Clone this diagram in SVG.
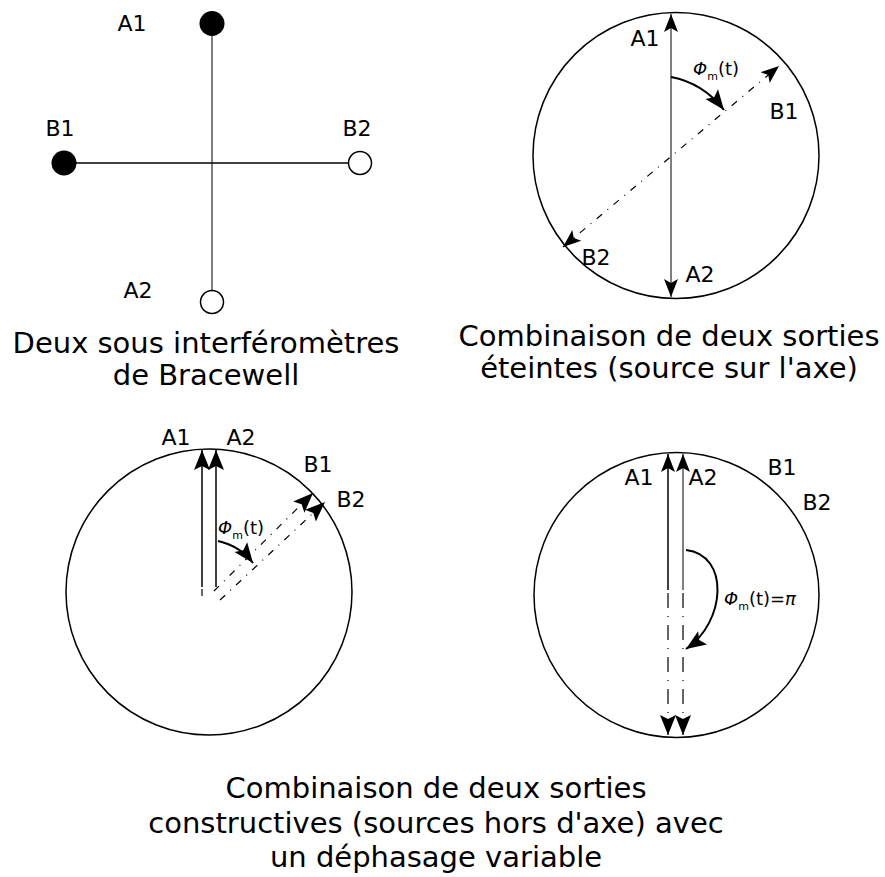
<svg xmlns="http://www.w3.org/2000/svg" width="885" height="877" viewBox="0 0 885 877">
<style>
text{font-family:"DejaVu Sans","Liberation Sans",sans-serif;fill:#000}
.lbl{font-size:22px;text-anchor:middle}
.ttl{font-size:29px;text-anchor:middle}
.phi{font-size:18px}
.sub{font-size:11px}
.ring{fill:none;stroke:#000;stroke-width:1.5}
.ax{stroke:#000;stroke-width:1.5;fill:none}
.axg{stroke:#7f7f7f;stroke-width:2;fill:none}
.dd{stroke:#000;stroke-width:1.2;fill:none;stroke-dasharray:7,7,1,7}
.dv{stroke:#000;stroke-width:1.2;fill:none;stroke-dasharray:15,8,1,8}
.arc{stroke:#000;stroke-width:2;fill:none}
</style>
<defs>
<marker id="ahL" viewBox="-21 -10 23 20" refX="0" refY="0" markerWidth="23" markerHeight="20" markerUnits="userSpaceOnUse" orient="auto-start-reverse"><path d="M0,0 L-20,-8 L-16,0 L-20,8 Z" fill="#000"/></marker>
<marker id="ahM" viewBox="-19 -9 21 18" refX="0" refY="0" markerWidth="21" markerHeight="18" markerUnits="userSpaceOnUse" orient="auto-start-reverse"><path d="M0,0 L-18,-7 L-14,0 L-18,7 Z" fill="#000"/></marker>
</defs>

<!-- Panel 1 -->
<g id="bracewell">
<line class="axg" x1="212" y1="36" x2="212" y2="290"/>
<line class="ax" x1="76" y1="163" x2="348" y2="163"/>
<g id="p1-A1"><circle cx="212" cy="23.5" r="12.5" fill="#000"/><text class="lbl" x="132" y="31">A1</text></g>
<g id="p1-B1"><circle cx="64" cy="163" r="12.5" fill="#000"/><text class="lbl" x="60" y="136">B1</text></g>
<g id="p1-B2"><circle cx="360" cy="163" r="11.5" fill="#fff" stroke="#000" stroke-width="1.5"/><text class="lbl" x="357" y="136">B2</text></g>
<g id="p1-A2"><circle cx="212" cy="302" r="11.5" fill="#fff" stroke="#000" stroke-width="1.5"/><text class="lbl" x="138" y="298">A2</text></g>
<text class="ttl" x="206" y="353">Deux sous interféromètres</text>
<text class="ttl" x="206" y="385">de Bracewell</text>
</g>

<!-- Panel 2 -->
<g id="eteintes">
<circle class="ring" cx="676" cy="155.5" r="143"/>
<g id="p2-connectors">
<line class="axg" x1="671" y1="14" x2="671" y2="297" marker-start="url(#ahM)" marker-end="url(#ahM)"/>
<line class="dd" x1="563" y1="247" x2="779" y2="66" marker-start="url(#ahM)" marker-end="url(#ahM)"/>
<path class="arc" d="M671,77 Q703,83 724,110" marker-end="url(#ahL)"/>
</g>
<text class="lbl" x="645" y="46">A1</text>
<text class="lbl" x="700" y="282">A2</text>
<text class="lbl" x="596" y="265">B2</text>
<text class="lbl" x="784" y="119">B1</text>
<text class="phi" x="693" y="75"><tspan font-style="italic">Φ</tspan><tspan class="sub" dy="5">m</tspan><tspan dy="-5">(t)</tspan></text>
<text class="ttl" x="669" y="346">Combinaison de deux sorties</text>
<text class="ttl" x="669" y="378">éteintes (source sur l'axe)</text>
</g>

<!-- Panel 3 -->
<g id="constructive-1">
<circle class="ring" cx="209" cy="592" r="143"/>
<g id="p3-connectors">
<line class="ax" x1="202" y1="587" x2="202" y2="450" marker-end="url(#ahL)"/>
<line class="ax" x1="216" y1="587" x2="216" y2="450" marker-end="url(#ahL)"/>
<line class="dd" x1="202" y1="589" x2="202" y2="598" stroke-dasharray="1,6"/>
<line class="dd" x1="214" y1="591" x2="313" y2="493" marker-end="url(#ahL)"/>
<line class="dd" x1="220" y1="600" x2="325" y2="502" marker-end="url(#ahL)"/>
<path class="arc" d="M218,541 Q240,546 253,563" marker-end="url(#ahL)"/>
</g>
<text class="lbl" x="176" y="445">A1</text>
<text class="lbl" x="241" y="445">A2</text>
<text class="lbl" x="318" y="472">B1</text>
<text class="lbl" x="351" y="507">B2</text>
<text class="phi" x="218" y="534"><tspan font-style="italic">Φ</tspan><tspan class="sub" dy="5">m</tspan><tspan dy="-5">(t)</tspan></text>
</g>

<!-- Panel 4 -->
<g id="constructive-2">
<circle class="ring" cx="676.5" cy="595" r="142.5"/>
<g id="p4-connectors">
<line class="ax" x1="668" y1="590" x2="668" y2="454" marker-end="url(#ahM)"/>
<line class="axg" x1="683" y1="590" x2="683" y2="454" marker-end="url(#ahM)"/>
<line class="dv" x1="668" y1="593" x2="668" y2="735" marker-end="url(#ahL)"/>
<line class="dv" x1="683" y1="593" x2="683" y2="735" marker-end="url(#ahL)"/>
<path class="arc" d="M686,550 C730,555 726,622 686,649" marker-end="url(#ahL)"/>
</g>
<text class="lbl" x="639" y="485">A1</text>
<text class="lbl" x="703" y="485">A2</text>
<text class="lbl" x="782" y="475">B1</text>
<text class="lbl" x="817" y="510">B2</text>
<text class="phi" x="724" y="605"><tspan font-style="italic">Φ</tspan><tspan class="sub" dy="5">m</tspan><tspan dy="-5">(t)=</tspan><tspan font-style="italic">π</tspan></text>
</g>

<g id="caption">
<text class="ttl" x="436" y="798">Combinaison de deux sorties</text>
<text class="ttl" x="436" y="833">constructives (sources hors d'axe) avec</text>
<text class="ttl" x="436" y="867">un déphasage variable</text>
</g>
</svg>
